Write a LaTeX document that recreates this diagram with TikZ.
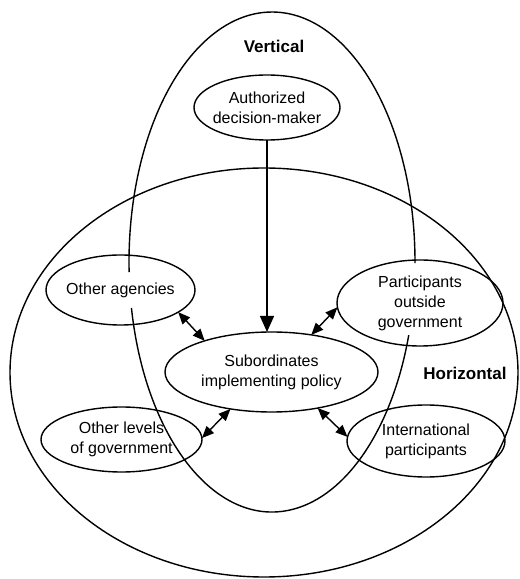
\documentclass[tikz,border=0pt]{standalone}
\usepackage{fontspec}
\setmainfont{Liberation Sans}
\usetikzlibrary{arrows.meta,shapes.geometric}
\begin{document}
\begin{tikzpicture}[x=1pt,y=1pt,
  outline/.style={line width=1.4pt},
  actor/.style={ellipse,draw,line width=1.4pt,inner sep=-6pt,outer sep=0pt,
    align=center,font=\fontsize{16}{20}\selectfont},
  zonelabel/.style={font=\fontsize{17}{20}\selectfont\bfseries},
  link/.style={line width=1.4pt,{Triangle[length=12pt,width=10pt]}-{Triangle[length=12pt,width=10pt]}},
  command/.style={line width=1.4pt,-{Triangle[length=16pt,width=14pt]}}]
\useasboundingbox (0,0) rectangle (520,579);

% horizontal field
\draw[outline] (264,206.5) ellipse [x radius=254, y radius=204.5];

% vertical field, broken where it passes behind the labels of the upper actors
\draw[outline] (272,317) ++(-0.23:143 and 250) arc [start angle=-0.23, end angle=182.3, x radius=143, y radius=250];
\draw[outline] (272,317) ++(190.6:143 and 250) arc [start angle=190.6, end angle=343, x radius=143, y radius=250];

\node[zonelabel] (vert) at (274,533) {Vertical};
\node[zonelabel] (horiz) at (465,206) {Horizontal};

\node[actor,minimum width=146pt,minimum height=65pt] (auth) at (267,471.5) {Authorized\\decision-maker};
\node[actor,minimum width=149pt,minimum height=70pt] (oa) at (120.5,289) {Other agencies};
\node[actor,minimum width=166pt,minimum height=86pt] (pog) at (420,276) {Participants\\outside\\government};
\node[actor,minimum width=213pt,minimum height=80pt] (sub) at (271.5,207) {Subordinates\\implementing policy};
\node[actor,minimum width=161pt,minimum height=65pt] (olg) at (121.5,139.5) {Other levels\\of government};
\node[actor,minimum width=158pt,minimum height=72pt] (ip) at (426,138) {International\\participants};

% authority flows down
\draw[command] (auth.south) -- (auth.south |- sub.north);

% two-way horizontal relations
\draw[link] (oa.-21.8) -- (sub.155.7);
\draw[link] (pog.-177) -- (sub.43.2);
\draw[link] (olg.1) -- (sub.-138);
\draw[link] (ip.177) -- (sub.-38.5);
\end{tikzpicture}
\end{document}
